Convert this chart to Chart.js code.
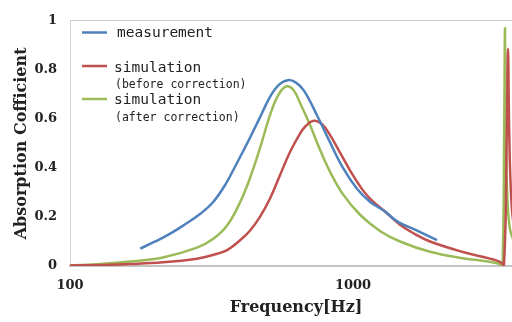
<!DOCTYPE html>
<html>
<head>
<meta charset="utf-8">
<script src="https://cdn.jsdelivr.net/npm/chart.js@4.4.0/dist/chart.umd.min.js"></script>
<style>
  html, body { margin: 0; padding: 0; background: #fff; }
  #wrap { width: 512px; height: 322px; overflow: hidden; position: relative; }
  #chart { display: block; }
</style>
</head>
<body>
<div id="wrap"><canvas id="chart" width="522" height="322"></canvas></div>
<script>
// Frequency [Hz] and absorption coefficient
const measFreq = [177, 200, 226, 255, 288, 320, 353, 389, 429, 469, 509, 548, 589, 629, 671, 746, 829, 922, 1033, 1148, 1297, 1442, 1656, 1981];
const measVal  = [0.071, 0.10, 0.132, 0.17, 0.212, 0.26, 0.33, 0.42, 0.515, 0.606, 0.69, 0.74, 0.758, 0.748, 0.715, 0.615, 0.505, 0.40, 0.315, 0.262, 0.222, 0.18, 0.148, 0.106];

const simBeforeFreq = [100, 128, 163, 213, 281, 320, 359, 399, 433, 469, 509, 552, 599, 650, 682, 728, 777, 829, 900, 976, 1059, 1148, 1297, 1466, 1656, 1871, 2447, 3049, 3306, 3416, 3495, 3529, 3564, 3617, 3706, 3892];
const simBeforeVal  = [0.002, 0.004, 0.008, 0.015, 0.03, 0.045, 0.065, 0.105, 0.145, 0.2, 0.275, 0.37, 0.465, 0.54, 0.572, 0.592, 0.578, 0.535, 0.462, 0.39, 0.325, 0.275, 0.222, 0.168, 0.13, 0.1, 0.057, 0.03, 0.017, 0.005, 0.55, 0.886, 0.55, 0.3, 0.16, 0.08];

const simAfterFreq = [100, 128, 163, 213, 281, 320, 359, 399, 433, 469, 509, 543, 580, 614, 650, 705, 764, 829, 922, 1059, 1245, 1466, 1871, 2447, 3049, 3306, 3375, 3424, 3444, 3464, 3506, 3588, 3767];
const simAfterVal  = [0.003, 0.008, 0.018, 0.035, 0.075, 0.11, 0.165, 0.26, 0.36, 0.48, 0.615, 0.695, 0.732, 0.72, 0.665, 0.575, 0.475, 0.385, 0.292, 0.209, 0.143, 0.1, 0.058, 0.032, 0.017, 0.008, 0.0, 0.6, 0.97, 0.6, 0.3, 0.15, 0.08];

const xTickValues = [100, 1000];
const seriesNames = ["measurement", "simulation", "simulation"];
const seriesNotes = ["", "(before correction)", "(after correction)"];
const seriesColors = ["#4f81bd", "#c0504d", "#9bbb59"];

const toPoints = (xs, ys) => xs.map((x, i) => ({ x: x, y: ys[i] }));

// legend drawn inside the plot area, like the original
const legendPlugin = {
  id: "insideLegend",
  afterDraw(chart) {
    const ctx = chart.ctx;
    const rows = [
      { lineY: 32.5, textY: 33, noteY: 0 },
      { lineY: 66, textY: 68, noteY: 85 },
      { lineY: 99, textY: 100, noteY: 118 },
    ];
    ctx.save();
    rows.forEach((r, i) => {
      ctx.strokeStyle = seriesColors[i];
      ctx.lineWidth = 2.5;
      ctx.beginPath();
      ctx.moveTo(82, r.lineY);
      ctx.lineTo(107, r.lineY);
      ctx.stroke();
      ctx.fillStyle = "#222";
      ctx.textBaseline = "middle";
      ctx.textAlign = "left";
      ctx.font = "14.5px 'DejaVu Sans Mono'";
      ctx.fillText(seriesNames[i], i === 0 ? 117 : 114, r.textY);
      if (seriesNotes[i]) {
        ctx.font = "11.5px 'DejaVu Sans Mono'";
        ctx.fillText(seriesNotes[i], 115, r.noteY);
      }
    });
    ctx.restore();
  },
};

const tickFont = { family: "'DejaVu Serif'", size: 13, weight: "bold" };

new Chart(document.getElementById("chart"), {
  type: "line",
  data: {
    datasets: [
      { label: "measurement", data: toPoints(measFreq, measVal), borderColor: seriesColors[0] },
      { label: "simulation (before correction)", data: toPoints(simBeforeFreq, simBeforeVal), borderColor: seriesColors[1] },
      { label: "simulation (after correction)", data: toPoints(simAfterFreq, simAfterVal), borderColor: seriesColors[2] },
    ],
  },
  options: {
    responsive: false,
    animation: false,
    layout: { padding: { top: 14, left: 0, right: 0, bottom: 0 } },
    elements: {
      line: { borderWidth: 2.5, tension: 0.4, fill: false },
      point: { radius: 0 },
    },
    plugins: {
      legend: { display: false },
      tooltip: { enabled: false },
    },
    scales: {
      x: {
        type: "logarithmic",
        min: 100,
        max: 3955,
        afterBuildTicks: (axis) => {
          axis.ticks = xTickValues.map((v) => ({ value: v }));
        },
        afterFit: (axis) => {
          axis.height = 56;
        },
        grid: { color: "rgba(0,0,0,0)", drawTicks: false },
        border: { display: true, color: "#c4c4c4", width: 2 },
        ticks: {
          autoSkip: false,
          maxRotation: 0,
          padding: 12,
          color: "#222",
          font: tickFont,
          callback: (value) => String(value),
        },
        title: {
          display: true,
          text: "Frequency[Hz]",
          color: "#222",
          font: { family: "'DejaVu Serif'", size: 16, weight: "bold" },
          padding: { top: 0, bottom: 5 },
        },
      },
      y: {
        min: 0,
        max: 1,
        afterFit: (axis) => {
          axis.width = 70;
        },
        grid: {
          drawTicks: false,
          color: (c) => (c.tick && c.tick.value === 1 ? "#c8c8c8" : "rgba(0,0,0,0)"),
        },
        border: { display: true, color: "#d4d4d4", width: 1 },
        ticks: {
          stepSize: 0.2,
          padding: 13,
          color: "#222",
          font: tickFont,
          callback: (value) => String(Math.round(value * 10) / 10),
        },
        title: {
          display: true,
          text: "Absorption Cofficient",
          color: "#222",
          font: { family: "'DejaVu Serif'", size: 16, weight: "bold" },
          padding: { top: 12, bottom: 0 },
        },
      },
    },
  },
  plugins: [legendPlugin],
});
</script>
</body>
</html>
